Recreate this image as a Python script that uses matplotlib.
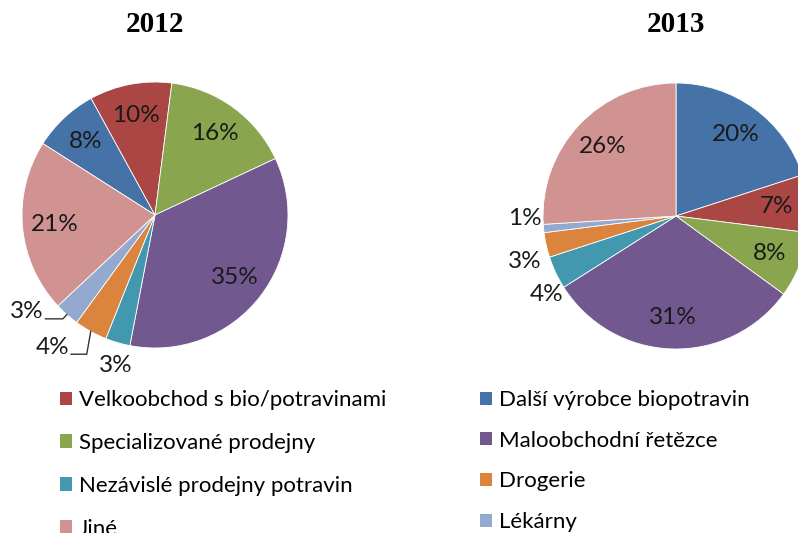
import numpy as np
import matplotlib
matplotlib.use("Agg")
import matplotlib.pyplot as plt
from matplotlib.patches import Patch

# categories in pie order (clockwise)
categories = ["Další výrobce biopotravin", "Velkoobchod s bio/potravinami",
              "Specializované prodejny", "Maloobchodní řetězce",
              "Nezávislé prodejny potravin", "Drogerie", "Lékárny", "Jiné"]
colors = ["#4572A7", "#AA4643", "#89A54E", "#71588F",
          "#4198AF", "#DB843D", "#93A9CF", "#D19392"]
shares_2012 = [8, 10, 16, 35, 3, 4, 3, 21]
shares_2013 = [20, 7, 8, 31, 4, 3, 1, 26]
years = ["2012", "2013"]

# legend columns (indices into categories)
legend_left = [1, 2, 4, 7]
legend_right = [0, 3, 5, 6]

W, H = 798, 533
fig = plt.figure(figsize=(W / 100, H / 100), dpi=100)
ax = fig.add_axes([0, 0, 1, 1])

label_font = "Lato"
R = 133

# pie placement: center, start angle (deg clockwise from top), label tweaks
pies = [
    dict(center=(155, H - 215), start=-57.5, data=shares_2012,
         # index: (distance factor, angle shift, leader line)
         outside={4: (1.17, -1.5, False), 5: (1.26, 9, True), 6: (1.21, 11.5, True)}),
    dict(center=(676, H - 216), start=0.0, data=shares_2013,
         outside={4: (1.14, -6, False), 5: (1.19, -4, False), 6: (1.14, 4.5, False)}),
]

for year, p in zip(years, pies):
    cx, cy = p["center"]
    vals = np.array(p["data"], dtype=float)
    ax.pie(vals, colors=colors, radius=R, center=p["center"],
           startangle=90 - p["start"], counterclock=False,
           wedgeprops=dict(edgecolor="white", linewidth=0.6),
           frame=True)
    cum = np.cumsum(vals) - vals / 2
    for i, v in enumerate(vals):
        mid = p["start"] + cum[i] / vals.sum() * 360
        dist, shift, leader = 0.76, 0, False
        if i in p["outside"]:
            dist, shift, leader = p["outside"][i]
        a = np.radians(mid + shift)
        lx = cx + R * dist * np.sin(a)
        ly = cy + R * dist * np.cos(a)
        ax.text(lx, ly, f"{int(v)}%", ha="center", va="center",
                fontsize=17.5, family=label_font, color="#1a1a1a")
        if leader:
            am = np.radians(mid)
            ex = cx + R * np.sin(am)
            ey = cy + R * np.cos(am)
            sx, sy = lx + 19, ly - 7
            ax.plot([sx, ex - 4, ex], [sy, sy, ey], color="#333333", lw=1)
    ax.text(cx, H - 25, year, ha="center", va="center", fontsize=21,
            fontweight="bold", family="Liberation Serif")

ax.set_xlim(0, W)
ax.set_ylim(0, H)
ax.set_aspect("equal")
ax.axis("off")

leg_kw = dict(frameon=False, loc="upper left",
              prop=dict(family=label_font, size=16),
              handlelength=0.54, handleheight=0.54, handletextpad=0.3,
              borderaxespad=0, borderpad=0)
legends = []
for col, x0, spacing in zip([legend_left, legend_right], [60, 480], [1.03, 0.93]):
    handles = [Patch(facecolor=colors[i], edgecolor="none") for i in col]
    labels = [categories[i] for i in col]
    leg = ax.legend(handles, labels, bbox_to_anchor=(x0 / W, (H - 390) / H),
                    labelspacing=spacing, **leg_kw)
    legends.append(leg)
ax.add_artist(legends[0])

fig.savefig("out.png", dpi=100)
